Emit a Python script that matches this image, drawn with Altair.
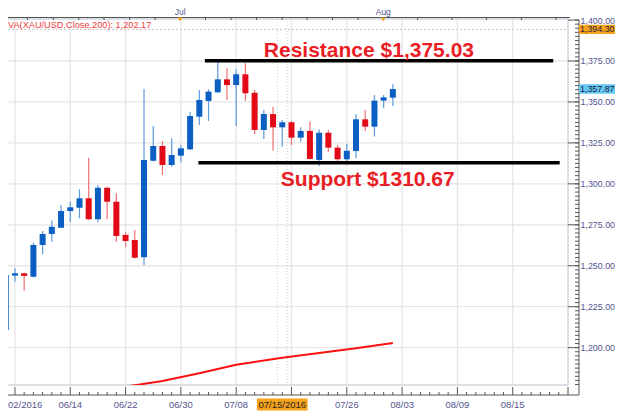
import altair as alt
import pandas as pd

# ---------------- data ----------------
idx = list(range(43))
opens = [1210.8, 1244.0, 1245.4, 1243.3, 1262.7, 1269.4, 1273.2, 1283.4, 1285.4, 1291.2,
         1278.4, 1297.6, 1289.1, 1268.8, 1265.7, 1255.2, 1314.1, 1323.1, 1311.5, 1317.2,
         1321.1, 1341.0, 1350.6, 1355.9, 1363.8, 1360.3, 1366.9, 1355.6, 1332.9, 1342.6,
         1334.5, 1337.6, 1328.2, 1332.3, 1314.6, 1331.2, 1322.1, 1315.0, 1320.1, 1339.4,
         1334.9, 1350.8, 1352.6]
highs = [1245.0, 1248.4, 1245.8, 1264.1, 1271.2, 1277.7, 1287.1, 1289.1, 1296.7, 1316.0,
         1299.3, 1298.2, 1294.2, 1270.4, 1271.8, 1357.9, 1335.3, 1326.2, 1327.8, 1323.7,
         1344.0, 1357.3, 1357.7, 1374.6, 1370.5, 1369.9, 1373.6, 1357.3, 1345.1, 1347.1,
         1339.0, 1338.4, 1334.5, 1338.0, 1333.3, 1332.9, 1323.7, 1324.3, 1342.5, 1345.1,
         1354.2, 1354.2, 1360.8]
lows = [1207.1, 1240.3, 1234.8, 1243.0, 1257.0, 1264.7, 1273.0, 1276.7, 1279.0, 1278.0,
        1276.5, 1278.4, 1264.7, 1261.3, 1254.5, 1250.5, 1313.8, 1305.4, 1310.5, 1313.2,
        1320.7, 1335.9, 1338.4, 1355.5, 1351.2, 1335.3, 1350.8, 1330.4, 1327.4, 1320.2,
        1322.7, 1323.7, 1325.7, 1314.8, 1310.9, 1319.6, 1314.0, 1313.5, 1315.6, 1332.3,
        1328.8, 1346.1, 1347.5]
closes = [1244.4, 1245.4, 1243.8, 1262.7, 1269.4, 1273.8, 1283.4, 1285.7, 1291.2, 1278.4,
          1297.6, 1289.1, 1268.2, 1265.1, 1254.9, 1314.6, 1323.1, 1311.5, 1317.6, 1321.7,
          1341.4, 1351.2, 1356.3, 1363.8, 1360.3, 1366.9, 1355.3, 1332.9, 1342.6, 1334.5,
          1337.6, 1328.2, 1332.3, 1315.2, 1331.2, 1322.1, 1315.0, 1320.2, 1339.4, 1334.9,
          1350.8, 1352.8, 1357.87]

ma_idx = [13, 14, 17, 21, 25, 30, 34, 38, 42]
ma_val = [1176.3, 1177.1, 1179.6, 1184.4, 1189.6, 1193.9, 1196.8, 1199.6, 1202.9]

level_names = ["Resistance", "Support"]
level_vals = [1375.2, 1312.9]
level_from = [21.6, 20.9]
level_to = [59.4, 60.1]

ann_text = ["Resistance $1,375.03", "Support $1310.67"]
ann_i = [28.0, 29.84]
ann_v = [1377.6, 1298.7]

x_tick_major = [1, 7, 13, 19, 25, 31, 37, 43, 49, 55, 61]
x_tick_labels_i = [1, 7, 13, 19, 25, 37, 43, 49, 55]
x_tick_labels = ["02/2016", "06/14", "06/22", "06/30", "07/08", "07/26", "08/03", "08/09", "08/15"]
cross_i = 30
cross_label = "07/15/2016"
cross_lines = [29.47, 30.53]
cross_price = 1394.30
last_price = 1357.87

top_ticks = [2.35, 5.16, 7.93, 10.66, 13.44, 16.21, 18.93, 21.67, 24.44, 27.21, 29.98,
             32.68, 35.45, 38.22, 40.96, 44.69, 48.42, 52.15, 55.95, 59.68]
month_i = [18.93, 40.96]
month_lbl = ["Jul", "Aug"]

y_major = [1200, 1225, 1250, 1275, 1300, 1325, 1350, 1375, 1400]
y_minor = [1177.5 + 2.5 * k for k in range(90)]

ma_label = "VA(XAU/USD.Close,200): 1,202.17"

# ---------------- layout ----------------
W, H = 560, 366
X0, X1 = 0.787, 60.457
Y0, Y1 = 1177.2, 1400.64
FONT = "Liberation Sans"
LBL = "#55558f"
BLUE, RED = "#0b5fc3", "#e20a16"
BLUE_W, RED_W = "#5c9ae0", "#f07070"

xs = alt.Scale(domain=[X0, X1], nice=False, zero=False)
ys = alt.Scale(domain=[Y0, Y1], nice=False, zero=False)
yaxis = alt.Axis(orient="right", offset=11, values=y_major, format=",.2f", grid=False,
                 domain=False, ticks=False, tickSize=0, labelPadding=1, labelFont=FONT,
                 labelFontSize=8.9, labelColor=LBL, title=None)


def X(f):
    return alt.X(f, type="quantitative", scale=xs, axis=None)


def Y(f):
    return alt.Y(f, type="quantitative", scale=ys, axis=yaxis)


candles = pd.DataFrame({"i": idx, "open": opens, "high": highs, "low": lows, "close": closes})
up = candles[candles.close >= candles.open]
down = candles[candles.close < candles.open]

layers = []

# grid
gh = pd.DataFrame({"v": y_major[:-1]})
layers.append(alt.Chart(gh).mark_rule(color="#e6e6e6", strokeWidth=1.3).encode(
    y=Y("v"), x=alt.value(0), x2=alt.value(W)))
gv = pd.DataFrame({"i": [t for t in x_tick_major if t <= 60]})
layers.append(alt.Chart(gv).mark_rule(color="#e6e6e6", strokeWidth=1.3).encode(
    x=X("i"), y=alt.value(0), y2=alt.value(H)))

# crosshair
layers.append(alt.Chart(pd.DataFrame({"v": [cross_price]})).mark_rule(
    color="#c4c4c4", strokeWidth=1, strokeDash=[2, 2]).encode(y=Y("v"), x=alt.value(0), x2=alt.value(W)))
layers.append(alt.Chart(pd.DataFrame({"i": cross_lines})).mark_rule(
    color="#cccccc", strokeWidth=1, strokeDash=[1, 2]).encode(x=X("i"), y=alt.value(0), y2=alt.value(H)))

# frame
frame_c = "#cfd6df"
layers.append(alt.Chart(pd.DataFrame({"a": [0, H]})).mark_rule(color=frame_c, strokeWidth=1.5).encode(
    y=alt.Y("a:Q", scale=None), x=alt.value(0), x2=alt.value(W)))
layers.append(alt.Chart(pd.DataFrame({"a": [0]})).mark_rule(color=frame_c, strokeWidth=1.5).encode(
    x=alt.value(W), y=alt.value(0), y2=alt.value(H)))

# moving average
ma = pd.DataFrame({"i": ma_idx, "v": ma_val})
layers.append(alt.Chart(ma).mark_line(color="#ff1010", strokeWidth=2, clip=True).encode(x=X("i"), y=Y("v")))

# candles: wicks then bodies
for df, wc, bc in [(up, BLUE_W, BLUE), (down, RED_W, RED)]:
    layers.append(alt.Chart(df).mark_rule(strokeWidth=1.2, color=wc).encode(
        x=X("i"), y=Y("low"), y2=alt.Y2("high")))
    layers.append(alt.Chart(df).mark_bar(size=6, color=bc, opacity=1).encode(
        x=X("i"), y=Y("open"), y2=alt.Y2("close")))

# support / resistance
lv = pd.DataFrame({"name": level_names, "v": level_vals, "a": level_from, "b": level_to})
layers.append(alt.Chart(lv).mark_rule(color="black", strokeWidth=3.5).encode(
    x=X("a"), x2=alt.X2("b"), y=Y("v")))
an = pd.DataFrame({"t": ann_text, "i": ann_i, "v": ann_v})
layers.append(alt.Chart(an).mark_text(align="left", baseline="alphabetic", font=FONT, fontSize=21,
                                      fontWeight="bold", color="#ea1c24").encode(
    x=X("i"), y=Y("v"), text="t:N"))

# MA legend text
layers.append(alt.Chart(pd.DataFrame({"t": [ma_label]})).mark_text(
    align="left", baseline="middle", font=FONT, fontSize=9.2, color="#f23c3c").encode(
    x=alt.value(0), y=alt.value(5.5), text="t:N"))

# right axis line + ticks
axc = "#555555"
layers.append(alt.Chart(pd.DataFrame({"a": [0]})).mark_rule(color=axc, strokeWidth=1).encode(
    x=alt.value(W + 11), y=alt.value(1), y2=alt.value(H + 10)))
layers.append(alt.Chart(pd.DataFrame({"v": y_major})).mark_rule(color=axc, strokeWidth=1).encode(
    y=Y("v"), x=alt.value(W), x2=alt.value(W + 11)))
layers.append(alt.Chart(pd.DataFrame({"v": y_minor})).mark_rule(color=axc, strokeWidth=1).encode(
    y=Y("v"), x=alt.value(W + 7), x2=alt.value(W + 11)))

# bottom axis line + ticks
layers.append(alt.Chart(pd.DataFrame({"a": [0]})).mark_rule(color=axc, strokeWidth=1).encode(
    y=alt.value(H + 10), x=alt.value(0), x2=alt.value(W + 11)))
layers.append(alt.Chart(pd.DataFrame({"i": x_tick_major})).mark_rule(color=axc, strokeWidth=1).encode(
    x=X("i"), y=alt.value(H + 2), y2=alt.value(H + 10)))
layers.append(alt.Chart(pd.DataFrame({"i": [k for k in range(62) if k not in x_tick_major]})).mark_rule(
    color=axc, strokeWidth=1).encode(x=X("i"), y=alt.value(H + 7), y2=alt.value(H + 10)))

# top axis line + ticks + month markers
TOPY = -1.5
layers.append(alt.Chart(pd.DataFrame({"a": [0]})).mark_rule(color=axc, strokeWidth=1).encode(
    y=alt.value(TOPY), x=alt.value(0), x2=alt.value(W + 2)))
layers.append(alt.Chart(pd.DataFrame({"i": top_ticks})).mark_rule(color=axc, strokeWidth=1).encode(
    x=X("i"), y=alt.value(TOPY), y2=alt.value(TOPY + 2.5)))
mon = pd.DataFrame({"i": month_i, "t": month_lbl})
layers.append(alt.Chart(mon).mark_point(shape="triangle-down", filled=True, size=22, opacity=1,
                                        color="#f5a21c").encode(x=X("i"), y=alt.value(TOPY + 2)))
layers.append(alt.Chart(mon).mark_text(baseline="alphabetic", font=FONT, fontSize=8.5, color=LBL).encode(
    x=X("i"), y=alt.value(-3.8), text="t:N"))

# bottom labels
xl = pd.DataFrame({"i": x_tick_labels_i, "t": x_tick_labels})
layers.append(alt.Chart(xl[xl.i > 1]).mark_text(baseline="middle", font=FONT, fontSize=9.5, color=LBL).encode(
    x=X("i"), y=alt.value(H + 19.5), text="t:N"))
layers.append(alt.Chart(xl[xl.i == 1]).mark_text(align="left", baseline="middle", font=FONT, fontSize=9.5,
                                                 color=LBL).encode(
    x=alt.value(0), y=alt.value(H + 19.5), text="t:N"))
cl = pd.DataFrame({"i": [cross_i], "a": [cross_i - 2.75], "b": [cross_i + 2.75], "t": [cross_label]})
layers.append(alt.Chart(cl).mark_rect(color="#f7a21b").encode(
    x=X("a"), x2=alt.X2("b"), y=alt.value(H + 13.5), y2=alt.value(H + 25.5)))
layers.append(alt.Chart(cl).mark_text(baseline="middle", font=FONT, fontSize=9.5, color="#222222").encode(
    x=X("i"), y=alt.value(H + 19.5), text="t:N"))

# price boxes on right axis
half = 4.7 / 1.638
pb = pd.DataFrame({"v": [cross_price, last_price], "lo": [cross_price - half, last_price - half],
                   "hi": [cross_price + half, last_price + half],
                   "t": ["1,394.30", "1,357.87"], "k": ["cross", "last"]})
layers.append(alt.Chart(pb).mark_rect().encode(
    y=Y("lo"), y2=alt.Y2("hi"), x=alt.value(W + 11), x2=alt.value(W + 47),
    color=alt.Color("k:N", scale=alt.Scale(domain=["cross", "last"], range=["#f7a21b", "#62c8f2"]), legend=None)))
layers.append(alt.Chart(pb).mark_text(align="left", baseline="middle", font=FONT, fontSize=8.9,
                                      color="#1e1e3c").encode(
    y=Y("v"), x=alt.value(W + 12), text="t:N"))

chart = alt.layer(*layers).properties(
    width=W, height=H,
    autosize=alt.AutoSizeParams(type="none"),
    padding={"left": 0, "top": 11, "right": 47, "bottom": 27},
    background="white",
).configure_view(stroke=None)

chart.save("out.html", embed_options={"renderer": "svg", "actions": False})
